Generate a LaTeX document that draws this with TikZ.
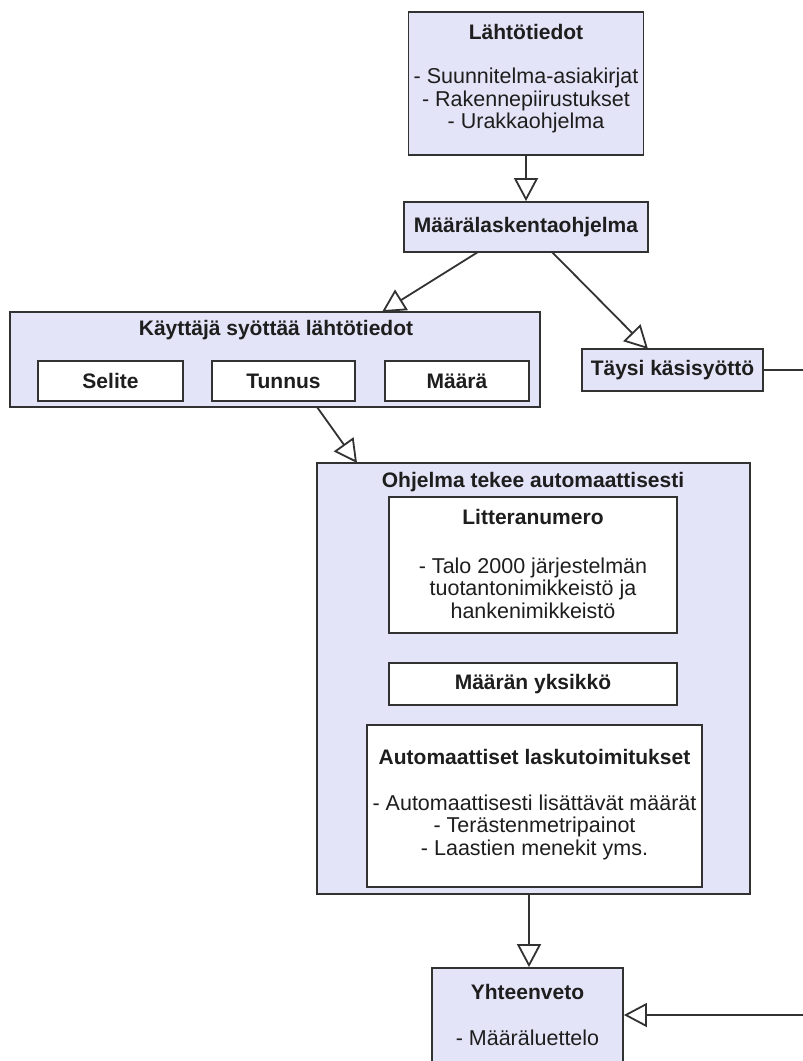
\documentclass[tikz,border=0pt]{standalone}
\usepackage{fontspec}
\setmainfont{Liberation Sans}
\usetikzlibrary{arrows.meta,calc}
\definecolor{boxfill}{RGB}{228,228,248}
\definecolor{edge}{RGB}{50,50,50}
\definecolor{txt}{RGB}{30,30,30}
\begin{document}
\begin{tikzpicture}[x=1pt,y=-1pt,
  outer/.style={draw=edge,line width=1.8pt,fill=boxfill,inner sep=0pt},
  inner/.style={draw=edge,line width=1.8pt,fill=white,inner sep=0pt},
  lbl/.style={text=txt,inner sep=0pt,align=center,font=\fontsize{21.5}{22.5}\selectfont},
  blbl/.style={lbl,font=\fontsize{21}{22.5}\selectfont\bfseries},
  conn/.style={draw=edge,line width=1.8pt,-{Triangle[open,length=23pt,width=24pt,fill=white]}}]
\useasboundingbox (0,0) rectangle (803,1061);
\fill[white] (0,0) rectangle (803,1061);

% boxes
\node[outer,minimum width=235pt,minimum height=143pt] (lahto) at (526,83.5) {};
\node[outer,minimum width=244pt,minimum height=50pt] (maara) at (526,227) {};
\node[outer,minimum width=530pt,minimum height=95pt] (kayt) at (275,359.5) {};
\node[inner,minimum width=145pt,minimum height=40pt] (selite) at (110.5,381) {};
\node[inner,minimum width=143pt,minimum height=40pt] (tunnus) at (283.5,381) {};
\node[inner,minimum width=144pt,minimum height=40pt] (maarab) at (457,381) {};
\node[outer,minimum width=181pt,minimum height=42pt] (taysi) at (672.5,370) {};
\node[outer,minimum width=433pt,minimum height=431pt] (ohj) at (533.5,678.5) {};
\node[inner,minimum width=288pt,minimum height=136pt] (litt) at (533,565) {};
\node[inner,minimum width=288pt,minimum height=42pt] (yks) at (533,684) {};
\node[inner,minimum width=335pt,minimum height=162pt] (auto) at (534.5,806) {};
\node[outer,minimum width=191pt,minimum height=110pt] (yht) at (527.5,1023) {};

% texts
\node[blbl] (t1) at (526,32) {Lähtötiedot};
\node[lbl] (t2) at (526,100.5) {- Suunnitelma-asiakirjat\\- Rakennepiirustukset\\- Urakkaohjelma};
\node[blbl] (t3) at (526,227) {Määrälaskentaohjelma};
\node[blbl] (t4) at (276,330) {Käyttäjä syöttää lähtötiedot};
\node[blbl] (t5) at (110.5,381) {Selite};
\node[blbl] (t6) at (283.5,381) {Tunnus};
\node[blbl] (t7) at (457,381) {Määrä};
\node[blbl] (t8) at (672.5,370) {Täysi käsisyöttö};
\node[blbl] (t9) at (533,482) {Ohjelma tekee automaattisesti};
\node[blbl] (t10) at (533,517) {Litteranumero};
\node[lbl] (t11) at (533,588) {- Talo 2000 järjestelmän\\tuotantonimikkeistö ja\\hankenimikkeistö};
\node[blbl] (t12) at (533,684) {Määrän yksikkö};
\node[blbl] (t13) at (534.5,757) {Automaattiset laskutoimitukset};
\node[lbl] (t14) at (534.5,827) {- Automaattisesti lisättävät määrät\\- Terästenmetripainot\\- Laastien menekit yms.};
\node[blbl] (t15) at (527.5,992) {Yhteenveto};
\node[lbl] (t16) at (527.5,1038) {- Määräluettelo};

% connector points
\coordinate (a1) at (478,252);
\coordinate (a2) at (382,312);
\coordinate (b1) at (552,252);
\coordinate (b2) at (648,349);
\coordinate (c1) at (317,407);
\coordinate (c2) at (357,463);
\coordinate (r1) at (840,370);
\coordinate (r2) at (840,1015);

% connectors
\draw[conn] (lahto.south) -- (maara.north);
\draw[conn] (a1) -- (a2);
\draw[conn] (b1) -- (b2);
\draw[conn] (c1) -- (c2);
\draw[conn] (ohj.south -| 529,0) -- (yht.north -| 529,0);
\draw[conn] (taysi.east) -- (r1) -- (r2) -- (yht.east |- r2);
\end{tikzpicture}
\end{document}
